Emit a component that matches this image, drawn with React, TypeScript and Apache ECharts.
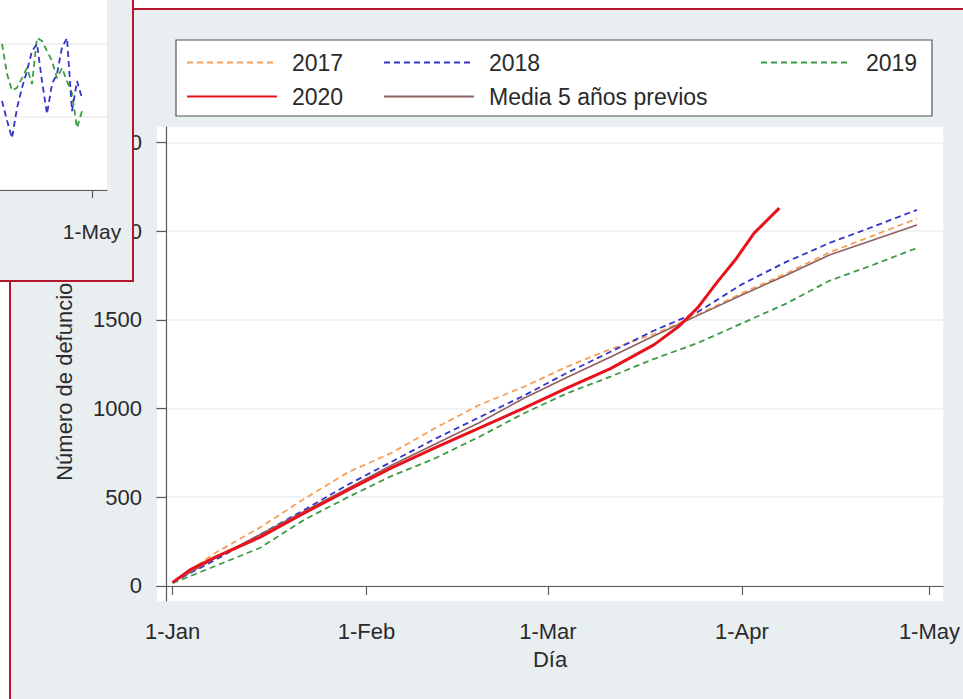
import React, { useEffect, useRef } from "react";
import * as echarts from "echarts";

// Main chart data (day of year, cumulative deaths)
const days = [1, 8, 15, 22, 29, 36, 43, 50, 57, 64, 71, 78, 85, 92, 99, 106, 113, 120];
const y2017 = [20, 190, 330, 490, 640, 750, 890, 1020, 1120, 1235, 1335, 1420, 1530, 1650, 1760, 1880, 1975, 2070];
const y2018 = [20, 150, 290, 428, 570, 700, 830, 950, 1070, 1200, 1320, 1440, 1545, 1700, 1825, 1933, 2025, 2120];
const y2019 = [15, 115, 215, 372, 500, 620, 720, 840, 970, 1085, 1180, 1280, 1370, 1480, 1590, 1720, 1810, 1905];
const yMedia = [20, 160, 290, 420, 550, 680, 800, 920, 1055, 1175, 1290, 1410, 1525, 1640, 1750, 1866, 1950, 2035];
const days2020 = [1, 4, 8, 15, 22, 29, 36, 43, 50, 57, 64, 71, 78, 82, 85, 88, 91, 94, 96, 98];
const y2020 = [20, 95, 165, 275, 410, 540, 665, 780, 890, 1000, 1115, 1225, 1360, 1465, 1570, 1710, 1840, 1990, 2060, 2130];

const yTicks = [0, 500, 1000, 1500, 2000, 2500];
const xTickDays = [1, 32, 61, 92, 122];
const xTickLabels = ["1-Jan", "1-Feb", "1-Mar", "1-Apr", "1-May"];

// Inset chart data (daily deaths)
const insetDays = [104, 105, 106, 107, 108, 109, 110, 111, 112, 113, 114, 115, 116, 117, 118, 119, 120];
const inset2018 = [12.2, 9.5, 7.1, 11.2, 14.0, 16.3, 19.0, 20.0, 14.9, 10.4, 14.5, 15.9, 19.5, 20.8, 10.8, 14.9, 12.6];
const inset2019 = [20.0, 15.9, 13.6, 14.0, 15.3, 16.7, 14.5, 20.8, 20.4, 19.0, 17.7, 15.3, 16.7, 14.9, 13.2, 8.5, 10.8];
const insetTickDays = [122];
const insetTickLabels = ["1-May"];
const insetGridValues = [0, 10, 20];

const pairs = (xs: number[], ys: number[]) => xs.map((x, i) => [x, ys[i]]);

const FONT = "'Liberation Sans', Arial, sans-serif";
const BG = "#e9eef1";
const RED_FRAME = "#b5172f";
const AXIS = "#5a5a5a";
const GRID = "#eceeef";
const TXT = "#2a2a2a";

const C2017 = "#f4a05a";
const C2018 = "#3434c8";
const C2019 = "#3d9a45";
const C2020 = "#e8121c";
const CMEDIA = "#8e6060";

export default function App() {
  const ref = useRef<HTMLDivElement>(null);
  useEffect(() => {
    if (!ref.current) return;
    const chart = echarts.init(ref.current, undefined, { renderer: "svg" });
    const dashed = (color: string) => ({ color, width: 1.8, type: [6, 4] as any });
    const legendCommon = {
      orient: "vertical" as const,
      top: 51,
      padding: 0,
      itemWidth: 90,
      itemHeight: 12,
      itemGap: 11,
      selectedMode: false,
      itemStyle: { opacity: 0 },
      textStyle: { fontSize: 23, fontFamily: FONT, color: TXT, padding: [0, 0, 0, 10] },
    };
    chart.setOption({
      animation: false,
      backgroundColor: "#ffffff",
      textStyle: { fontFamily: FONT },
      graphic: [
        {
          type: "rect",
          z: -1,
          shape: { x: 10, y: 9, width: 980, height: 720 },
          style: { fill: BG, stroke: RED_FRAME, lineWidth: 2 },
        },
        {
          type: "rect",
          z: 1,
          shape: { x: 176, y: 40, width: 756, height: 76 },
          style: { fill: "#ffffff", stroke: "#555555", lineWidth: 1.2 },
        },
        {
          type: "rect",
          z: 100,
          shape: { x: -5, y: -5, width: 138, height: 286 },
          style: { fill: BG, stroke: RED_FRAME, lineWidth: 2 },
        },
        {
          type: "rect",
          z: 101,
          shape: { x: -5, y: -5, width: 112, height: 195 },
          style: { fill: "#ffffff" },
        },
      ],
      legend: [
        { ...legendCommon, left: 186, data: ["2017", "2020"] },
        { ...legendCommon, left: 383, data: ["2018", "Media 5 años previos"] },
        { ...legendCommon, left: 760, data: ["2019"] },
      ],
      grid: [
        {
          left: 157,
          top: 127,
          right: 15,
          bottom: 98,
          show: true,
          backgroundColor: "#ffffff",
          borderWidth: 0,
        },
        {
          left: 0,
          top: 0,
          width: 107,
          height: 190,
          show: false,
        },
      ],
      xAxis: [
        {
          type: "value",
          gridIndex: 0,
          min: -1.5,
          max: 124.2,
          name: "Día",
          nameLocation: "middle",
          nameGap: 47,
          nameTextStyle: { fontSize: 22, color: TXT, fontFamily: FONT },
          axisLine: { show: true, lineStyle: { color: AXIS, width: 1.2 } },
          axisTick: { show: true, length: 9, customValues: xTickDays, lineStyle: { color: AXIS, width: 1.2 } },
          axisLabel: {
            customValues: xTickDays,
            margin: 19,
            fontSize: 22,
            color: TXT,
            fontFamily: FONT,
            formatter: (v: number) => {
              const i = xTickDays.indexOf(Math.round(v));
              return i >= 0 ? xTickLabels[i] : "";
            },
          },
          splitLine: { show: false },
        },
        {
          type: "value",
          gridIndex: 1,
          min: 103.6,
          max: 125,
          offset: 14,
          z: 102,
          axisLine: { show: true, lineStyle: { color: AXIS, width: 1.2 } },
          axisTick: { show: true, length: 8, customValues: insetTickDays, lineStyle: { color: AXIS, width: 1.2 } },
          axisLabel: {
            customValues: insetTickDays,
            margin: 17,
            fontSize: 21,
            color: TXT,
            fontFamily: FONT,
            formatter: (v: number) => {
              const i = insetTickDays.indexOf(Math.round(v));
              return i >= 0 ? insetTickLabels[i] : "";
            },
          },
          splitLine: { show: false },
        },
      ],
      yAxis: [
        {
          type: "value",
          gridIndex: 0,
          min: -85,
          max: 2587,
          name: "Número de defunciones",
          nameLocation: "middle",
          nameGap: 82,
          nameTextStyle: { fontSize: 22, color: TXT, fontFamily: FONT },
          axisLine: { show: true, lineStyle: { color: AXIS, width: 1.2 } },
          axisTick: { show: true, length: 10, customValues: yTicks, lineStyle: { color: AXIS, width: 1.2 } },
          axisLabel: {
            customValues: yTicks,
            margin: 15,
            fontSize: 22,
            color: TXT,
            fontFamily: FONT,
            formatter: (v: number) => String(Math.round(v)),
          },
          splitLine: { show: true, lineStyle: { color: GRID, width: 1.5 } },
        },
        {
          type: "value",
          gridIndex: 1,
          min: 0,
          max: 26,
          z: 102,
          axisLine: { show: false },
          axisTick: { show: false, customValues: insetGridValues },
          axisLabel: { show: false, customValues: insetGridValues },
          splitLine: { show: true, lineStyle: { color: GRID, width: 1.5 } },
        },
      ],
      series: [
        {
          name: "2017",
          type: "line",
          symbol: "none",
          showSymbol: false,
          lineStyle: dashed(C2017),
          itemStyle: { color: C2017 },
          data: pairs(days, y2017),
          z: 2,
        },
        {
          name: "2018",
          type: "line",
          symbol: "none",
          showSymbol: false,
          lineStyle: dashed(C2018),
          itemStyle: { color: C2018 },
          data: pairs(days, y2018),
          z: 2,
        },
        {
          name: "2019",
          type: "line",
          symbol: "none",
          showSymbol: false,
          lineStyle: dashed(C2019),
          itemStyle: { color: C2019 },
          data: pairs(days, y2019),
          z: 2,
        },
        {
          name: "Media 5 años previos",
          type: "line",
          symbol: "none",
          showSymbol: false,
          lineStyle: { color: CMEDIA, width: 1.6 },
          itemStyle: { color: CMEDIA },
          data: pairs(days, yMedia),
          z: 3,
        },
        {
          name: "2020",
          type: "line",
          symbol: "none",
          showSymbol: false,
          lineStyle: { color: C2020, width: 3 },
          itemStyle: { color: C2020 },
          data: pairs(days2020, y2020),
          z: 4,
        },
        {
          name: "inset2019",
          type: "line",
          xAxisIndex: 1,
          yAxisIndex: 1,
          symbol: "none",
          showSymbol: false,
          lineStyle: dashed(C2019),
          data: pairs(insetDays, inset2019),
          z: 103,
        },
        {
          name: "inset2018",
          type: "line",
          xAxisIndex: 1,
          yAxisIndex: 1,
          symbol: "none",
          showSymbol: false,
          lineStyle: dashed(C2018),
          data: pairs(insetDays, inset2018),
          z: 103,
        },
      ],
    });
    return () => chart.dispose();
  }, []);
  return (
    <div
      ref={ref}
      style={{ position: "fixed", left: 0, top: 0, width: 963, height: 699 }}
    />
  );
}
